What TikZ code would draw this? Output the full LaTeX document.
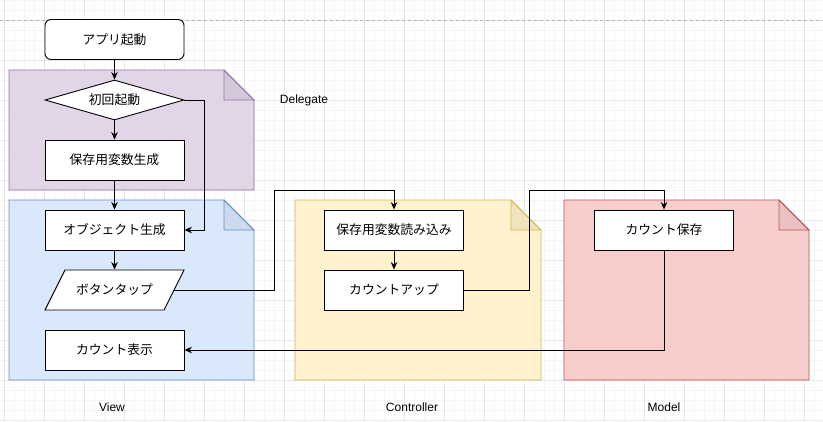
\documentclass[tikz,border=0pt]{standalone}
\usepackage{fontspec}
\setmainfont{Liberation Sans}
\newfontfamily\jpfont{Noto Sans CJK JP}
\usetikzlibrary{arrows.meta,shapes.geometric}
\definecolor{DelegateFill}{HTML}{E1D5E7}
\definecolor{DelegateLine}{HTML}{9673A6}
\definecolor{ViewFill}{HTML}{DAE8FC}
\definecolor{ViewLine}{HTML}{6C8EBF}
\definecolor{CtrlFill}{HTML}{FFF2CC}
\definecolor{CtrlLine}{HTML}{D6B656}
\definecolor{ModelFill}{HTML}{F8CECC}
\definecolor{ModelLine}{HTML}{B85450}
\definecolor{GridMajor}{HTML}{E6E6E6}
\definecolor{GridMinor}{HTML}{F5F5F5}

\tikzset{
  procbox/.style={draw, fill=white, line width=0.9pt, minimum width=139pt, minimum height=40pt,
    inner sep=0pt, font=\jpfont\fontsize{12.8}{15}\selectfont},
  startbox/.style={procbox, rounded corners=6pt},
  decbox/.style={procbox, diamond, aspect=3.475},
  iobox/.style={procbox, draw=none, fill=none},
  flow/.style={-{Stealth[length=7.5pt,width=6.5pt]}, line width=0.9pt},
  lanelabel/.style={font=\fontsize{12}{14}\selectfont}
}

% folded note: fill, line, x1, y1, x2, y2
\newcommand{\notebox}[6]{%
  \filldraw[fill=#1, draw=#2, line width=0.8pt] (#3,#4) -- ({#5-30},#4) -- (#5,{#4+30}) -- (#5,#6) -- (#3,#6) -- cycle;
  \filldraw[fill=black, fill opacity=0.06, draw=#2, line width=0.8pt] ({#5-30},#4) -- ({#5-30},{#4+30}) -- (#5,{#4+30}) -- cycle;
}

\begin{document}
\begin{tikzpicture}[x=1pt,y=-1pt]
\useasboundingbox (0,0) rectangle (823,421);

% background grid
\fill[white] (0,0) rectangle (823,421);
\foreach \gx in {4,14,...,824} \draw[GridMinor, line width=0.6pt] (\gx,0) -- (\gx,421);
\foreach \gy in {0,10,...,420} \draw[GridMinor, line width=0.6pt] (0,\gy) -- (823,\gy);
\foreach \gx in {4,44,...,804} \draw[GridMajor, line width=0.6pt] (\gx,0) -- (\gx,421);
\foreach \gy in {20,60,...,420} \draw[GridMajor, line width=0.6pt] (0,\gy) -- (823,\gy);
\draw[black!30, dash pattern=on 3pt off 3pt, line width=0.7pt] (0,20) -- (823,20);

\notebox{DelegateFill}{DelegateLine}{9}{70}{254}{190}
\notebox{ViewFill}{ViewLine}{9}{200}{254}{380}
\notebox{CtrlFill}{CtrlLine}{295}{200}{541}{380}
\notebox{ModelFill}{ModelLine}{564}{200}{809}{380}

% parallelogram outline for the tap step
\filldraw[fill=white, line width=0.9pt] (45,310) -- (164,310) -- (184,270) -- (65,270) -- cycle;

\node[startbox] (launch) at (114.5,39.5) {アプリ起動};
\node[decbox] (first) at (114.5,100) {初回起動};
\node[procbox] (makevar) at (114.5,160) {保存用変数生成};
\node[procbox] (makeobj) at (114.5,230) {オブジェクト生成};
\node[iobox] (tap) at (114.5,290) {ボタンタップ};
\node[procbox] (show) at (114.5,350) {カウント表示};
\node[procbox] (loadvar) at (394,230) {保存用変数読み込み};
\node[procbox] (countup) at (394,290) {カウントアップ};
\node[procbox] (savecnt) at (664,230) {カウント保存};

\coordinate (busA) at (274,190);
\coordinate (busB) at (529,190);

\draw[flow] (launch) -- (first);
\draw[flow] (first) -- (makevar);
\draw[flow] (makevar) -- (makeobj);
\draw[flow] (first.east) -- ++(20,0) |- (makeobj.east);
\draw[flow] (makeobj) -- (tap);
\draw[flow] ([xshift=-10pt]tap.east) -| (busA) -| (loadvar.north);
\draw[flow] (loadvar) -- (countup);
\draw[flow] (countup.east) -| (busB) -| (savecnt.north);
\draw[flow] (savecnt.south) |- (show.east);

\node[lanelabel] (delegatelbl) at (304,100) {Delegate};
\node[lanelabel] (viewlbl) at (112,407) {View};
\node[lanelabel] (ctrllbl) at (412,407) {Controller};
\node[lanelabel] (modellbl) at (664,407) {Model};
\end{tikzpicture}
\end{document}
